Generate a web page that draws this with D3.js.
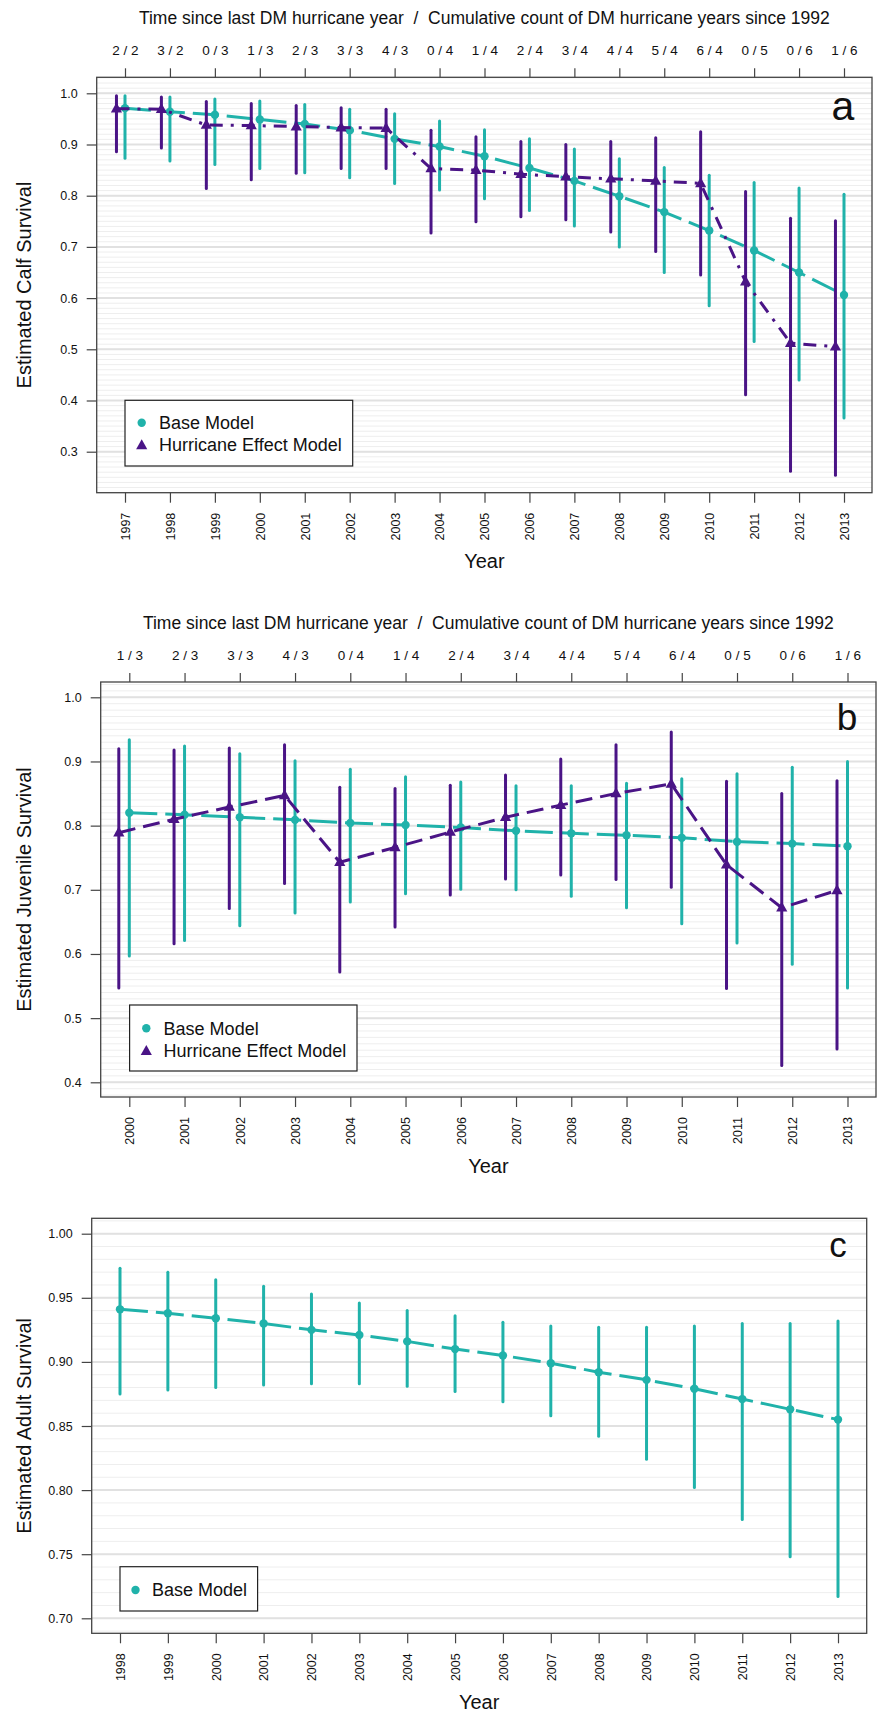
<!DOCTYPE html>
<html><head><meta charset="utf-8">
<script src="https://cdn.jsdelivr.net/npm/d3@7"></script>
<style>
body{margin:0;background:#fff}
svg{display:block}
text{font-family:"Liberation Sans",Arial,Helvetica,sans-serif;fill:#111}
</style>
</head><body>
<svg id="chart" width="879" height="1712"></svg>
<script>
// ---------- DATA ----------
const calfYears = [1997,1998,1999,2000,2001,2002,2003,2004,2005,2006,2007,2008,2009,2010,2011,2012,2013];
const calfTopLabels = ["2 / 2","3 / 2","0 / 3","1 / 3","2 / 3","3 / 3","4 / 3","0 / 4","1 / 4","2 / 4","3 / 4","4 / 4","5 / 4","6 / 4","0 / 5","0 / 6","1 / 6"];
const calfBase   = [0.971,0.964,0.958,0.949,0.940,0.928,0.911,0.896,0.877,0.854,0.829,0.799,0.768,0.732,0.693,0.650,0.606];
const calfBaseLo = [0.873,0.868,0.861,0.853,0.845,0.835,0.824,0.811,0.794,0.771,0.741,0.700,0.650,0.585,0.515,0.440,0.366];
const calfBaseHi = [0.995,0.993,0.989,0.985,0.978,0.969,0.960,0.946,0.929,0.911,0.891,0.872,0.855,0.840,0.826,0.815,0.803];
const calfHurr   = [0.970,0.969,0.938,0.937,0.935,0.933,0.932,0.853,0.850,0.842,0.837,0.833,0.829,0.824,0.632,0.512,0.505];
const calfHurrLo = [0.886,0.893,0.814,0.831,0.844,0.853,0.853,0.727,0.749,0.759,0.753,0.729,0.691,0.645,0.411,0.262,0.254];
const calfHurrHi = [0.995,0.993,0.984,0.980,0.976,0.972,0.969,0.928,0.915,0.906,0.900,0.906,0.913,0.925,0.808,0.756,0.751];
const calfYTicks = [0.3,0.4,0.5,0.6,0.7,0.8,0.9,1.0];

const juvYears = [2000,2001,2002,2003,2004,2005,2006,2007,2008,2009,2010,2011,2012,2013];
const juvTopLabels = ["1 / 3","2 / 3","3 / 3","4 / 3","0 / 4","1 / 4","2 / 4","3 / 4","4 / 4","5 / 4","6 / 4","0 / 5","0 / 6","1 / 6"];
const juvBase   = [0.820,0.817,0.813,0.809,0.804,0.801,0.797,0.792,0.788,0.785,0.781,0.775,0.772,0.768];
const juvBaseLo = [0.597,0.621,0.644,0.664,0.681,0.694,0.701,0.700,0.690,0.672,0.647,0.617,0.584,0.547];
const juvBaseHi = [0.934,0.924,0.912,0.901,0.888,0.876,0.868,0.862,0.862,0.866,0.873,0.881,0.891,0.900];
const juvHurr   = [0.789,0.810,0.829,0.847,0.743,0.766,0.790,0.813,0.832,0.850,0.865,0.739,0.672,0.699];
const juvHurrLo = [0.547,0.616,0.671,0.710,0.572,0.642,0.692,0.717,0.723,0.716,0.704,0.546,0.426,0.452];
const juvHurrHi = [0.920,0.918,0.921,0.926,0.860,0.858,0.863,0.879,0.904,0.926,0.946,0.869,0.850,0.870];
const juvYTicks = [0.4,0.5,0.6,0.7,0.8,0.9,1.0];

const adultYears = [1998,1999,2000,2001,2002,2003,2004,2005,2006,2007,2008,2009,2010,2011,2012,2013];
const adultBase   = [0.941,0.938,0.934,0.930,0.925,0.921,0.916,0.910,0.905,0.899,0.892,0.886,0.879,0.871,0.863,0.855];
const adultBaseLo = [0.875,0.878,0.880,0.882,0.883,0.883,0.881,0.877,0.869,0.858,0.842,0.824,0.802,0.777,0.748,0.717];
const adultBaseHi = [0.973,0.970,0.964,0.959,0.953,0.946,0.940,0.936,0.931,0.928,0.927,0.927,0.928,0.930,0.930,0.932];
const adultYTicks = [0.70,0.75,0.80,0.85,0.90,0.95,1.00];

const topTitle = "Time since last DM hurricane year  /  Cumulative count of DM hurricane years since 1992";
const seriesNames = ["Base Model","Hurricane Effect Model"];

// ---------- STYLE ----------
const TEAL = "#20b2aa";
const PURPLE = "#4a1486";
const AXIS = "#444";

const svg = d3.select("#chart");

function triPath(cx, cy) {
  return `M${cx},${cy-6.2}L${cx+5.6},${cy+3.8}L${cx-5.6},${cy+3.8}Z`;
}

function drawPanel(p) {
  const g = svg.append("g");
  const {l, r, t, b} = p.box;
  const x = d3.scaleLinear().domain([p.years[0], p.years[p.years.length-1]]).range(p.xRange);
  const y = d3.scaleLinear().domain(p.yDomain).range(p.yRange);

  g.append("rect").attr("x", l).attr("y", t).attr("width", r-l).attr("height", b-t).attr("fill", "#fff");

  // minor gridlines (0.01)
  const vTop = y.invert(t), vBot = y.invert(b);
  const minor = d3.range(Math.ceil(vBot*100+1e-6), Math.floor(vTop*100-1e-6)+1).map(v => v/100);
  g.selectAll("line.minor").data(minor).join("line").attr("class","minor")
    .attr("x1", l).attr("x2", r).attr("y1", d => y(d)).attr("y2", d => y(d))
    .attr("stroke", "#eeeeee").attr("stroke-width", 1);
  g.selectAll("line.major").data(p.yTicks).join("line").attr("class","major")
    .attr("x1", l).attr("x2", r).attr("y1", d => y(d)).attr("y2", d => y(d))
    .attr("stroke", "#e1e1e1").attr("stroke-width", 2);

  // series
  const base = p.years.map((yr, i) => ({yr, v: p.base[i], lo: p.baseLo[i], hi: p.baseHi[i]}));
  const line = (off) => d3.line().x(d => x(d.yr + off)).y(d => y(d.v));

  function drawSeries(data, color, dash, off, marker) {
    g.append("g").selectAll("line").data(data).join("line")
      .attr("x1", d => x(d.yr + off)).attr("x2", d => x(d.yr + off))
      .attr("y1", d => y(d.lo)).attr("y2", d => y(d.hi))
      .attr("stroke", color).attr("stroke-width", 3).attr("stroke-linecap", "round");
    g.append("path").datum(data).attr("d", line(off))
      .attr("fill", "none").attr("stroke", color).attr("stroke-width", 3)
      .attr("stroke-dasharray", dash).attr("stroke-linecap", "butt");
    if (marker === "circle") {
      g.append("g").selectAll("circle").data(data).join("circle")
        .attr("cx", d => x(d.yr + off)).attr("cy", d => y(d.v)).attr("r", 4.2).attr("fill", color);
    } else {
      g.append("g").selectAll("path").data(data).join("path")
        .attr("d", d => triPath(x(d.yr + off), y(d.v))).attr("fill", color);
    }
  }
  drawSeries(base, TEAL, p.baseDash, 0, "circle");
  if (p.hurr) {
    const hurr = p.years.map((yr, i) => ({yr, v: p.hurr[i], lo: p.hurrLo[i], hi: p.hurrHi[i]}));
    drawSeries(hurr, PURPLE, p.hurrDash, -0.19, "triangle");
  }

  // frame
  g.append("rect").attr("x", l).attr("y", t).attr("width", r-l).attr("height", b-t)
    .attr("fill", "none").attr("stroke", AXIS).attr("stroke-width", 1.3);

  // left axis
  const ax = g.append("g").attr("transform", `translate(${l},0)`)
    .call(d3.axisLeft(y).tickValues(p.yTicks).tickSize(10).tickPadding(9).tickFormat(d3.format(p.yFmt)));
  ax.select(".domain").remove();
  ax.selectAll(".tick line").attr("stroke", AXIS).attr("stroke-width", 1.2);
  ax.selectAll(".tick text").attr("font-size", 12.5).attr("fill", "#222").attr("font-family", null);

  // bottom axis
  const bx = g.append("g").attr("transform", `translate(0,${b})`)
    .call(d3.axisBottom(x).tickValues(p.years).tickSize(10).tickFormat(d3.format("d")));
  bx.select(".domain").remove();
  bx.selectAll(".tick line").attr("stroke", AXIS).attr("stroke-width", 1.2);
  bx.selectAll(".tick text").attr("font-size", 12.5).attr("fill", "#222").attr("font-family", null)
    .attr("transform", "rotate(-90)").attr("x", -20).attr("y", 0).attr("dy", "0.35em").attr("text-anchor", "end");

  // top axis
  if (p.topLabels) {
    const tx = g.append("g").attr("transform", `translate(0,${t})`)
      .call(d3.axisTop(x).tickValues(p.years).tickSize(9).tickPadding(13.5).tickFormat((d, i) => p.topLabels[i]));
    tx.select(".domain").remove();
    tx.selectAll(".tick line").attr("stroke", AXIS).attr("stroke-width", 1.2);
    tx.selectAll(".tick text").attr("font-size", 13.5).attr("fill", "#222").attr("font-family", null)
      .style("white-space", "pre");
    g.append("text").attr("x", (l + r) / 2).attr("y", p.titleY).attr("text-anchor", "middle")
      .attr("font-size", 17.5).style("white-space", "pre").text(topTitle);
  }

  // axis titles
  g.append("text").attr("x", (l + r) / 2).attr("y", b + 75.5).attr("text-anchor", "middle")
    .attr("font-size", 20).text("Year");
  g.append("text").attr("transform", `translate(31,${(t + b) / 2}) rotate(-90)`).attr("text-anchor", "middle")
    .attr("font-size", 20).text(p.yTitle);

  // panel letter
  g.append("text").attr("x", p.letterPos[0]).attr("y", p.letterPos[1]).attr("text-anchor", "middle")
    .attr("font-size", p.letterSize).attr("fill", "#000").text(p.letter);

  // legend
  const L = p.legend;
  const lg = g.append("g");
  lg.append("rect").attr("x", L.x).attr("y", L.y).attr("width", L.w).attr("height", L.h)
    .attr("fill", "#fff").attr("stroke", "#222").attr("stroke-width", 1.2);
  L.entries.forEach((n, i) => {
    const cy = L.y + L.first + i * 22.3;
    if (i === 0) lg.append("circle").attr("cx", L.x + L.sym).attr("cy", cy).attr("r", 4.2).attr("fill", TEAL);
    else lg.append("path").attr("d", triPath(L.x + L.sym, cy + 0.5)).attr("fill", PURPLE);
    lg.append("text").attr("x", L.x + L.txt).attr("y", cy).attr("dy", "0.35em").attr("font-size", 18).text(n);
  });
}

drawPanel({
  years: calfYears, base: calfBase, baseLo: calfBaseLo, baseHi: calfBaseHi,
  hurr: calfHurr, hurrLo: calfHurrLo, hurrHi: calfHurrHi,
  topLabels: calfTopLabels, titleY: 24,
  box: {l: 96.7, r: 872, t: 77.3, b: 492.7},
  xRange: [125, 844], yDomain: [0.3, 1.0], yRange: [451.7, 93.3],
  yTicks: calfYTicks, yFmt: ".1f",
  baseDash: "26,8", hurrDash: "13,8,3,8",
  yTitle: "Estimated Calf Survival",
  letter: "a", letterPos: [843, 119.5], letterSize: 41,
  legend: {x: 125, y: 400.3, w: 227.7, h: 65.7, first: 22.4, sym: 16.7, txt: 34, entries: seriesNames}
});

drawPanel({
  years: juvYears, base: juvBase, baseLo: juvBaseLo, baseHi: juvBaseHi,
  hurr: juvHurr, hurrLo: juvHurrLo, hurrHi: juvHurrHi,
  topLabels: juvTopLabels, titleY: 629,
  box: {l: 100.7, r: 876, t: 682, b: 1097},
  xRange: [129.3, 847.5], yDomain: [0.4, 1.0], yRange: [1082.3, 697.3],
  yTicks: juvYTicks, yFmt: ".1f",
  baseDash: "28,8", hurrDash: "17,8",
  yTitle: "Estimated Juvenile Survival",
  letter: "b", letterPos: [847, 730], letterSize: 37,
  legend: {x: 129.6, y: 1005, w: 227.4, h: 66, first: 23.3, sym: 16.7, txt: 34, entries: seriesNames}
});

drawPanel({
  years: adultYears, base: adultBase, baseLo: adultBaseLo, baseHi: adultBaseHi,
  topLabels: null,
  box: {l: 91.7, r: 866.7, t: 1218.3, b: 1633.3},
  xRange: [120, 838], yDomain: [0.70, 1.00], yRange: [1618.3, 1233.7],
  yTicks: adultYTicks, yFmt: ".2f",
  baseDash: "28,8",
  yTitle: "Estimated Adult Survival",
  letter: "c", letterPos: [838, 1256.5], letterSize: 35,
  legend: {x: 120, y: 1566.7, w: 137.6, h: 44.3, first: 23.3, sym: 15.5, txt: 32, entries: seriesNames.slice(0, 1)}
});
</script>
</body></html>
